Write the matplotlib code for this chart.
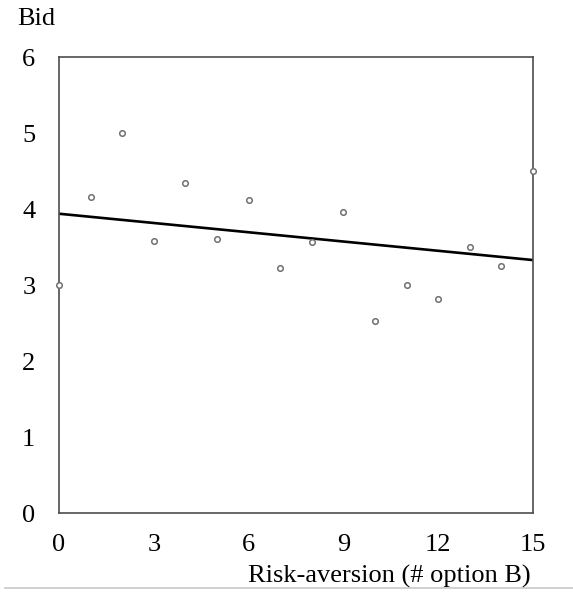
import matplotlib
matplotlib.use('Agg')
import matplotlib.pyplot as plt
import numpy as np

# Data
risk_aversion = [0, 1, 2, 3, 4, 5, 6, 7, 8, 9, 10, 11, 12, 13, 14, 15]
bids = [3.00, 4.16, 5.00, 3.58, 4.34, 3.60, 4.12, 3.22, 3.56, 3.96,
        2.53, 3.00, 2.81, 3.50, 3.25, 4.50]
x_ticks = [0, 3, 6, 9, 12, 15]
y_ticks = [0, 1, 2, 3, 4, 5, 6]

plt.rcParams['font.family'] = ['Liberation Serif', 'DejaVu Serif']

fig = plt.figure(figsize=(5.73, 5.97), dpi=100)
ax = fig.add_axes([0.103, 0.1407, 0.827, 0.7638])

# Scatter points
ax.plot(risk_aversion, bids, linestyle='none', marker='o', markersize=4.0,
        markerfacecolor='white', markeredgecolor='#707070', markeredgewidth=1.1,
        clip_on=False, zorder=3)

# Linear trend line
slope, intercept = np.polyfit(risk_aversion, bids, 1)
xs = np.array([0, 15])
ax.plot(xs, intercept + slope * xs, color='black', linewidth=1.9, zorder=2)

ax.set_xlim(0, 15)
ax.set_ylim(0, 6)
ax.set_xticks(x_ticks)
ax.set_yticks(y_ticks)
ax.tick_params(length=0, labelsize=19)
ax.tick_params(axis='x', pad=15)
ax.tick_params(axis='y', pad=17)

for spine in ax.spines.values():
    spine.set_color('#4d4d4d')
    spine.set_linewidth(1.2)

# Axis titles
fig.text(17 / 573, 1 - 19 / 597, 'Bid', fontsize=19, ha='left', va='center')
fig.text(531 / 573, 1 - 576 / 597, 'Risk-aversion (# option B)', fontsize=19,
         ha='right', va='center')

# Thin gray rule at the bottom
fig.add_artist(plt.Line2D([5 / 573, 1.0], [1 - 588 / 597, 1 - 588 / 597],
                          color='#c8c8c8', linewidth=1.2))

plt.savefig('out.png', dpi=100)
